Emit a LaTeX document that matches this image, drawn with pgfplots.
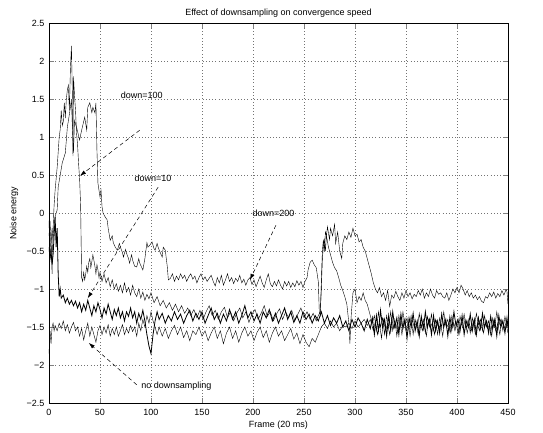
\documentclass[border=0pt]{standalone}
\usepackage{fontspec}
\setmainfont{Liberation Sans}
\usepackage{pgfplots}
\pgfplotsset{compat=1.18}
\usetikzlibrary{arrows.meta}

\begin{document}
\begin{tikzpicture}
\begin{axis}[
    name=ax,
    at={(0,0)}, anchor=south west,
    scale only axis,
    width=459pt, height=380pt,
    xmin=0, xmax=450, ymin=-2.5, ymax=2.5,
    xtick={0,50,...,450},
    ytick={-2.5,-2,...,2.5},
    yticklabels={−2.5,−2,−1.5,−1,−0.5,0,0.5,1,1.5,2,2.5},
    tick align=inside,
    major tick length=5pt,
    axis line style={line width=0.8pt},
    grid=major,
    major grid style={black!55, line width=0.4pt, dash pattern=on 0.6pt off 2.6pt},
    /pgf/number format/assume math mode=true,
    tick label style={font=\fontsize{9}{10}\selectfont},
    xticklabel style={yshift=-2.5pt},
    yticklabel style={xshift=-1pt},
    title={Effect of downsampling on convergence speed},
    every axis title shift=0pt,
    title style={font=\fontsize{9}{10}\selectfont, at={(0.5,1)}, anchor=south, inner sep=0pt, yshift=5pt},
    xlabel={Frame (20 ms)},
    ylabel={Noise energy},
    xlabel style={font=\fontsize{9}{10}\selectfont, at={(axis description cs:0.5,0)}, anchor=center, yshift=-22pt},
    ylabel style={font=\fontsize{9}{10}\selectfont, at={(axis description cs:-0.0763,0.5)}, anchor=center},
    cycle list={{black, line width=0.8pt, mark=none}},
]
% down=100
\addplot coordinates {
(0,-0.1) (1,-0.6) (2,-0.3) (3,-0.8) (4,-0.2) (5,0.1) (6,0.3) (7,0.45) (8,0.6) (9,0.8)
(10,1.0) (11,1.1) (12,1.35) (13,1.15) (14,1.2) (15,1.45) (16,1.25) (17,1.5) (18,1.62) (19,1.68)
(20,1.35) (21,1.9) (22,2.2) (23,1.5) (23.5,0.75) (24,1.8) (25,1.55) (26,1.35) (27,1.05) (28,0.9)
(29,0.65) (30,0.45) (31,0.1) (32,-0.85) (33,-0.9) (34,-0.78) (35,-0.88) (36,-0.8) (37,-0.7) (38,-0.78)
(39,-0.65) (40,-0.6) (41,-0.72) (42,-0.64) (43,-0.55) (44,-0.62) (45,-0.7) (46,-0.8) (47,-0.68) (48,-0.75)
(49,-0.85) (50,-0.78) (52,-0.9) (54,-0.8) (56,-0.92) (58,-0.85) (60,-0.97) (62,-0.88) (64,-1.0) (66,-0.93)
(68,-1.03) (70,-0.95) (72,-1.05) (74,-0.92) (76,-1.04) (78,-0.98) (80,-1.08) (82,-0.95) (84,-1.05) (86,-1.1)
(88,-1.0) (90,-1.12) (92,-1.04) (94,-1.15) (96,-1.07) (98,-1.13) (100,-1.05) (103,-1.18) (106,-1.1) (109,-1.22)
(112,-1.15) (115,-1.25) (118,-1.18) (121,-1.28) (124,-1.2) (127,-1.3) (130,-1.22) (133,-1.32) (136,-1.25) (139,-1.35)
(142,-1.27) (145,-1.38) (148,-1.28) (151,-1.4) (154,-1.3) (157,-1.22) (160,-1.35) (163,-1.28) (166,-1.4) (169,-1.3)
(172,-1.24) (175,-1.38) (178,-1.3) (181,-1.42) (184,-1.32) (187,-1.25) (190,-1.38) (193,-1.3) (196,-1.44) (199,-1.33)
(202,-1.27) (205,-1.4) (208,-1.32) (211,-1.22) (214,-1.36) (217,-1.3) (220,-1.42) (223,-1.33) (226,-1.26) (229,-1.4)
(232,-1.3) (235,-1.38) (238,-1.28) (241,-1.42) (244,-1.33) (247,-1.25) (250,-1.38) (253,-1.3) (256,-1.4) (259,-1.32)
(262,-1.42) (264,-1.35) (266,-1.3) (267,-1.0) (268,-0.6) (269,-0.45) (270,-0.35) (271,-0.5) (272,-0.3) (274,-0.45)
(276,-0.55) (278,-0.65) (280,-0.72) (282,-0.76) (284,-0.85) (286,-0.95) (288,-1.02) (290,-1.1) (292,-1.2) (294,-1.45)
(295,-1.72) (296,-1.4) (298,-1.05) (300,-1.0) (302,-1.18) (304,-1.1) (306,-1.15) (308,-1.05) (310,-1.15) (312,-1.2)
(314,-1.3) (317,-1.45) (319,-1.35) (321,-1.55) (323,-1.3) (325,-1.5) (327,-1.38) (329,-1.6) (331,-1.35) (333,-1.5)
(335,-1.3) (337,-1.55) (339,-1.4) (341,-1.62) (343,-1.35) (345,-1.5) (347,-1.3) (349,-1.48) (351,-1.38) (353,-1.55)
(355,-1.35) (357,-1.6) (359,-1.4) (361,-1.52) (363,-1.32) (365,-1.5) (367,-1.4) (369,-1.58) (371,-1.36) (373,-1.5)
(375,-1.33) (377,-1.55) (379,-1.4) (381,-1.6) (383,-1.38) (385,-1.5) (387,-1.3) (389,-1.48) (391,-1.4) (393,-1.56)
(395,-1.35) (397,-1.5) (399,-1.42) (401,-1.6) (403,-1.36) (405,-1.48) (407,-1.33) (409,-1.52) (411,-1.4) (413,-1.58)
(415,-1.38) (417,-1.5) (419,-1.32) (421,-1.47) (423,-1.4) (425,-1.55) (427,-1.35) (429,-1.5) (431,-1.42) (433,-1.6)
(435,-1.38) (437,-1.5) (439,-1.3) (441,-1.48) (443,-1.4) (445,-1.55) (447,-1.36) (449,-1.5) (450,-1.45)
};
% down=10
\addplot coordinates {
(0,-0.45) (1,-0.6) (2,-0.5) (3,-0.68) (4,-0.55) (5,-0.3) (6,-0.05) (7,-0.45) (8,-0.2) (9,-0.8)
(10,-1.1) (11,-1.0) (12,-1.12) (14,-1.08) (16,-1.18) (18,-1.12) (20,-1.2) (22,-1.15) (24,-1.22) (26,-1.16)
(28,-1.25) (30,-1.18) (32,-1.3) (34,-1.2) (36,-1.28) (38,-1.15) (40,-1.25) (42,-1.35) (44,-1.22) (46,-1.3)
(48,-1.18) (50,-1.27) (52,-1.38) (54,-1.25) (56,-1.33) (58,-1.2) (60,-1.3) (62,-1.4) (64,-1.27) (66,-1.35)
(68,-1.25) (70,-1.38) (72,-1.3) (74,-1.42) (76,-1.3) (78,-1.36) (80,-1.25) (82,-1.38) (84,-1.3) (86,-1.45)
(88,-1.32) (90,-1.4) (92,-1.28) (94,-1.42) (96,-1.6) (98,-1.75) (100,-1.85) (102,-1.6) (104,-1.42) (106,-1.3)
(108,-1.4) (111,-1.32) (114,-1.45) (117,-1.35) (120,-1.42) (123,-1.3) (126,-1.4) (129,-1.33) (132,-1.45) (135,-1.35)
(138,-1.28) (141,-1.42) (144,-1.32) (147,-1.4) (150,-1.3) (153,-1.45) (156,-1.35) (159,-1.25) (162,-1.4) (165,-1.32)
(168,-1.45) (171,-1.33) (174,-1.42) (177,-1.27) (180,-1.4) (183,-1.3) (186,-1.45) (189,-1.35) (192,-1.22) (195,-1.38)
(198,-1.3) (201,-1.42) (204,-1.33) (207,-1.45) (210,-1.3) (213,-1.38) (216,-1.27) (219,-1.42) (222,-1.32) (225,-1.45)
(228,-1.35) (231,-1.25) (234,-1.4) (237,-1.3) (240,-1.44) (243,-1.35) (246,-1.45) (249,-1.3) (252,-1.4) (255,-1.33)
(258,-1.45) (261,-1.35) (264,-1.42) (267,-1.3) (270,-1.45) (273,-1.35) (276,-1.48) (279,-1.38) (282,-1.45) (285,-1.35)
(288,-1.5) (291,-1.42) (294,-1.55) (297,-1.4) (300,-1.5) (303,-1.38) (306,-1.45) (309,-1.55) (312,-1.4) (315,-1.52)
(317,-1.38) (319,-1.6) (321,-1.35) (323,-1.55) (325,-1.28) (327,-1.5) (329,-1.4) (331,-1.62) (333,-1.35) (335,-1.55)
(337,-1.3) (339,-1.5) (341,-1.38) (343,-1.6) (345,-1.33) (347,-1.52) (349,-1.4) (351,-1.65) (353,-1.38) (355,-1.5)
(357,-1.32) (359,-1.55) (361,-1.42) (363,-1.62) (365,-1.36) (367,-1.52) (369,-1.3) (371,-1.5) (373,-1.4) (375,-1.6)
(377,-1.35) (379,-1.55) (381,-1.42) (383,-1.58) (385,-1.33) (387,-1.5) (389,-1.4) (391,-1.62) (393,-1.37) (395,-1.52)
(397,-1.3) (399,-1.48) (401,-1.4) (403,-1.55) (405,-1.35) (407,-1.6) (409,-1.42) (411,-1.5) (413,-1.33) (415,-1.55)
(417,-1.4) (419,-1.6) (421,-1.38) (423,-1.52) (425,-1.32) (427,-1.5) (429,-1.42) (431,-1.58) (433,-1.36) (435,-1.52)
(437,-1.4) (439,-1.62) (441,-1.35) (443,-1.5) (445,-1.42) (447,-1.58) (449,-1.38) (450,-1.5)
};
% down=200
\addplot coordinates {
(0,-0.3) (1,-0.1) (2,-0.4) (3,-0.2) (4,-0.35) (5,-0.15) (6,-0.05) (7,0.0) (8,0.04) (9,0.34)
(11,0.5) (13,0.66) (16,0.79) (18,1.13) (20,1.3) (22,1.49) (23,1.1) (24,0.79) (25,1.22) (27,1.13)
(30,0.96) (32,1.09) (35,1.26) (37,1.09) (38,1.39) (40,1.45) (42,1.32) (43,1.39) (45,1.32) (46,1.45)
(47,0.83) (48,0.39) (50,0.21) (51,0.3) (52,0.08) (53,0.0) (55,-0.05) (57,-0.09) (58,-0.2) (60,-0.36)
(62,-0.3) (63,-0.39) (65,-0.45) (67,-0.49) (69,-0.4) (70,-0.45) (72,-0.52) (73,-0.58) (75,-0.48) (76,-0.53)
(78,-0.6) (79,-0.66) (81,-0.55) (82,-0.62) (84,-0.7) (86,-0.71) (88,-0.6) (89,-0.66) (91,-0.72) (92,-0.75)
(94,-0.6) (96,-0.39) (97,-0.45) (99,-0.42) (101,-0.38) (103,-0.47) (104,-0.49) (106,-0.4) (107,-0.45) (109,-0.52)
(111,-0.58) (112,-0.45) (114,-0.49) (116,-0.71) (117,-0.88) (119,-0.86) (121,-0.8) (123,-0.9) (125,-0.83) (127,-0.88)
(129,-0.8) (131,-0.86) (133,-0.82) (135,-0.9) (137,-0.84) (139,-0.8) (141,-0.87) (143,-0.83) (145,-0.92) (147,-0.85)
(149,-0.8) (151,-0.88) (153,-0.84) (155,-0.9) (157,-0.86) (159,-0.82) (161,-0.9) (163,-0.96) (165,-0.85) (167,-0.92)
(169,-0.82) (171,-0.95) (173,-0.88) (175,-0.8) (177,-0.9) (179,-0.85) (181,-0.93) (183,-0.86) (185,-0.9) (187,-0.82)
(189,-0.92) (191,-0.87) (193,-0.95) (195,-0.88) (197,-0.85) (199,-0.94) (201,-0.88) (203,-0.97) (205,-0.9) (207,-0.83)
(209,-0.92) (211,-0.98) (213,-0.88) (215,-0.8) (217,-0.93) (219,-0.97) (221,-0.9) (223,-0.96) (225,-0.88) (227,-0.95)
(229,-1.0) (231,-0.9) (233,-0.96) (235,-0.9) (237,-0.98) (239,-0.92) (241,-0.97) (243,-0.89) (245,-0.95) (247,-0.9)
(249,-0.98) (251,-0.9) (253,-0.85) (254,-0.75) (256,-0.65) (258,-0.62) (260,-0.68) (262,-0.72) (264,-0.9) (265,-1.3)
(266,-1.35) (267,-0.9) (268,-0.5) (269,-0.35) (270,-0.5) (271,-0.25) (272,-0.3) (273,-0.18) (275,-0.35) (276,-0.2)
(278,-0.3) (280,-0.15) (281,-0.4) (283,-0.25) (285,-0.5) (287,-0.6) (288,-0.4) (290,-0.3) (292,-0.35) (294,-0.25)
(296,-0.32) (298,-0.2) (300,-0.3) (302,-0.28) (304,-0.38) (306,-0.35) (308,-0.45) (310,-0.5) (312,-0.6) (314,-0.7)
(316,-0.8) (318,-0.92) (320,-1.0) (322,-1.05) (324,-0.98) (326,-1.1) (328,-1.05) (330,-1.15) (332,-1.02) (334,-1.23)
(336,-1.08) (338,-1.12) (340,-1.03) (342,-1.1) (344,-1.15) (346,-1.05) (348,-1.12) (350,-1.02) (352,-1.1) (354,-1.05)
(356,-1.13) (358,-1.07) (360,-1.1) (362,-1.02) (364,-1.08) (366,-1.0) (368,-1.12) (370,-1.05) (372,-1.1) (374,-1.0)
(376,-1.08) (378,-1.12) (380,-1.02) (382,-1.07) (384,-1.05) (386,-1.1) (388,-1.12) (390,-1.05) (392,-1.15) (394,-1.08)
(396,-1.0) (398,-1.05) (400,-0.98) (402,-1.05) (404,-0.95) (406,-1.0) (408,-1.08) (410,-1.02) (412,-1.1) (414,-1.05)
(416,-1.12) (418,-1.08) (420,-1.14) (422,-1.1) (424,-1.16) (426,-1.18) (428,-1.1) (430,-1.12) (432,-1.05) (434,-1.1)
(436,-1.04) (438,-1.12) (440,-1.06) (442,-1.1) (444,-1.02) (446,-1.08) (448,-1.01) (449,-1.03) (450,-1.2)
};
% no downsampling
\addplot coordinates {
(0,-1.85) (1,-1.55) (2,-1.72) (3,-1.5) (4,-1.45) (5,-1.55) (6,-1.48) (8,-1.55) (10,-1.45) (12,-1.52)
(14,-1.42) (16,-1.55) (18,-1.47) (20,-1.58) (22,-1.5) (24,-1.44) (26,-1.55) (28,-1.5) (30,-1.62) (32,-1.52)
(34,-1.67) (36,-1.55) (38,-1.45) (40,-1.62) (42,-1.5) (44,-1.6) (46,-1.7) (48,-1.55) (50,-1.48) (52,-1.6)
(54,-1.5) (56,-1.58) (58,-1.47) (60,-1.62) (62,-1.52) (64,-1.6) (66,-1.5) (68,-1.62) (70,-1.55) (72,-1.47)
(74,-1.6) (76,-1.52) (78,-1.58) (80,-1.48) (82,-1.56) (84,-1.5) (86,-1.62) (88,-1.45) (90,-1.55) (92,-1.4)
(94,-1.5) (96,-1.35) (98,-1.45) (100,-1.3) (102,-1.42) (104,-1.5) (106,-1.6) (108,-1.5) (111,-1.62) (114,-1.52)
(117,-1.65) (120,-1.55) (123,-1.48) (126,-1.6) (129,-1.5) (132,-1.64) (135,-1.55) (138,-1.68) (141,-1.55) (144,-1.6)
(147,-1.5) (150,-1.62) (153,-1.55) (156,-1.68) (159,-1.58) (162,-1.5) (165,-1.65) (168,-1.55) (171,-1.72) (174,-1.58)
(177,-1.5) (180,-1.65) (183,-1.55) (186,-1.7) (189,-1.58) (192,-1.5) (195,-1.62) (198,-1.55) (201,-1.68) (204,-1.57)
(207,-1.5) (210,-1.64) (213,-1.55) (216,-1.7) (219,-1.58) (222,-1.5) (225,-1.62) (228,-1.55) (231,-1.68) (234,-1.6)
(237,-1.52) (240,-1.66) (243,-1.58) (246,-1.72) (249,-1.6) (252,-1.7) (255,-1.76) (258,-1.65) (261,-1.7) (264,-1.6)
(267,-1.5) (270,-1.45) (273,-1.52) (276,-1.42) (279,-1.5) (282,-1.45) (285,-1.55) (288,-1.48) (291,-1.5) (294,-1.45)
(297,-1.52) (300,-1.42) (303,-1.5) (306,-1.45) (309,-1.4) (312,-1.48) (315,-1.4) (318,-1.55) (320,-1.42) (322,-1.6)
(324,-1.45) (326,-1.65) (328,-1.4) (330,-1.55) (332,-1.45) (334,-1.6) (336,-1.38) (338,-1.52) (340,-1.45) (342,-1.58)
(344,-1.42) (346,-1.6) (348,-1.4) (350,-1.55) (352,-1.45) (354,-1.62) (356,-1.4) (358,-1.5) (360,-1.45) (362,-1.6)
(364,-1.42) (366,-1.55) (368,-1.45) (370,-1.62) (372,-1.4) (374,-1.5) (376,-1.44) (378,-1.6) (380,-1.42) (382,-1.52)
(384,-1.46) (386,-1.62) (388,-1.4) (390,-1.5) (392,-1.45) (394,-1.58) (396,-1.42) (398,-1.55) (400,-1.44) (402,-1.6)
(404,-1.45) (406,-1.52) (408,-1.4) (410,-1.58) (412,-1.45) (414,-1.55) (416,-1.42) (418,-1.6) (420,-1.45) (422,-1.55)
(424,-1.4) (426,-1.58) (428,-1.44) (430,-1.52) (432,-1.46) (434,-1.62) (436,-1.42) (438,-1.55) (440,-1.45) (442,-1.6)
(444,-1.4) (446,-1.52) (448,-1.45) (450,-1.58)
};
\begin{scope}[font=\fontsize{9}{10}\selectfont]
\node at (axis cs:91,1.55) {down=100};
\node at (axis cs:102,0.46) {down=10};
\node at (axis cs:220,-0.01) {down=200};
\node[anchor=west] at (axis cs:87,-2.28) {no downsampling};
\end{scope}
\begin{scope}[black, line width=0.5pt, dash pattern=on 4pt off 3pt, -{Latex[length=6pt,width=4pt]}]
\draw (axis cs:89,1.09) -- (axis cs:30.4,0.49);
\draw (axis cs:107,0.34) -- (axis cs:38,-1.12);
\draw (axis cs:222.5,-0.16) -- (axis cs:197,-0.88);
\draw (axis cs:86,-2.26) -- (axis cs:39,-1.71);
\end{scope}
\end{axis}
\pgfresetboundingbox
\useasboundingbox (-49pt,-29pt) rectangle (494pt,403pt);
\end{tikzpicture}
\end{document}
